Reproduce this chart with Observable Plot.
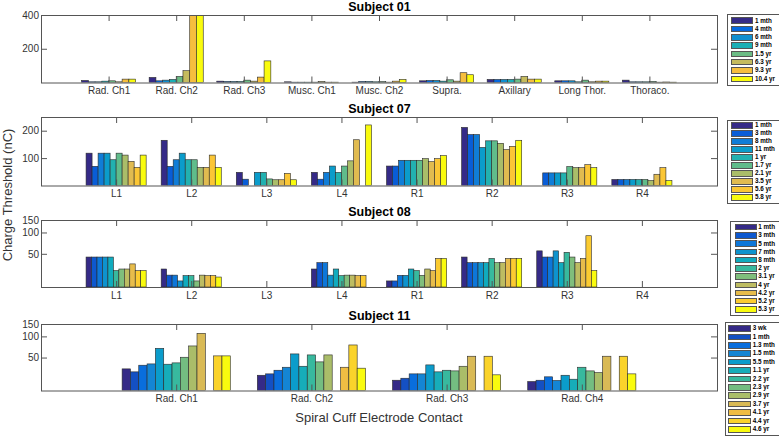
<!DOCTYPE html>
<html><head><meta charset="utf-8">
<script src="https://cdn.jsdelivr.net/npm/d3@7"></script>
<script src="https://cdn.jsdelivr.net/npm/@observablehq/plot@0.6"></script>
<style>
html,body{margin:0;padding:0;background:#fff;}
#chart{position:absolute;left:0;top:0;width:779px;height:437px;overflow:hidden;font-family:"Liberation Sans",Arial,Helvetica,sans-serif;}
.pwrap{position:absolute;left:0;width:779px;overflow:visible;}
.pwrap svg{display:block;max-width:none;}
.legend{position:absolute;border:1px solid #555;background:#fff;box-sizing:border-box;overflow:hidden;}
.legend .row{position:absolute;left:0;display:flex;align-items:center;}
.legend .sw{box-sizing:border-box;border:1px solid #555;flex:none;}
.legend .lab{font-size:6.3px;font-weight:bold;line-height:1;color:#000;white-space:nowrap;}
.axtitle{position:absolute;font-size:13px;color:#333;white-space:nowrap;line-height:1;}
</style></head><body><div id="chart"></div>
<script>
// ---------- data ----------
const s01Categories = ["Rad. Ch1","Rad. Ch2","Rad. Ch3","Musc. Ch1","Musc. Ch2","Supra.","Axillary","Long Thor.","Thoraco."];
const s01Series = ["1 mth","4 mth","6 mth","9 mth","1.5 yr","6.3 yr","9.3 yr","10.4 yr"];
const s01Values = [
  [12,4,4,8,10,4,20,20],
  [30,10,14,18,36,70,400,400],
  [8,6,6,6,14,8,32,128],
  [4,2,2,2,2,6,2,2],
  [2,6,6,4,5,2,8,18],
  [10,12,12,8,16,8,58,46],
  [18,18,18,18,20,36,20,20],
  [10,10,10,4,14,4,8,8],
  [14,4,4,4,6,2,3,2]
];
const s01YTicks = [200,400];

const s07Categories = ["L1","L2","L3","L4","R1","R2","R3","R4"];
const s07Series = ["1 mth","3 mth","8 mth","11 mth","1 yr","1.7 yr","2.1 yr","3.5 yr","5.6 yr","5.8 yr"];
const s07Values = [
  [118,70,118,118,94,118,111,88,66,111],
  [165,70,94,118,94,94,66,66,111,66],
  [48,23,null,48,48,24,21,21,44,21],
  [48,23,48,71,48,71,90,167,null,221],
  [71,71,92,92,92,92,98,87,98,109],
  [212,186,186,139,163,163,154,131,143,165],
  [null,46,46,46,46,69,65,65,76,65],
  [22,22,22,22,22,22,18,41,65,18]
];
const s07YTicks = [100,200];

const s08Categories = ["L1","L2","L3","L4","R1","R2","R3","R4"];
const s08Series = ["1 mth","3 mth","5 mth","7 mth","8 mth","2 yr","3.1 yr","4 yr","4.2 yr","5.2 yr","5.3 yr"];
const s08Values = [
  [45,45,45,45,45,29,30.5,30.5,36,29,29],
  [30.5,25,25,20.7,24.6,24.6,20.7,25,24.6,24.6,23.5],
  [null,null,null,null,null,null,null,null,null,null,null],
  [30.5,37.5,37.5,25,30.5,24.6,25,25,24.6,24.6,null],
  [20.7,20.7,24.8,24.8,30.5,29,24.8,30.5,29,43,43],
  [45,37.5,37.5,37.5,37.5,43,37.5,37.5,43,43,43],
  [55,45,45,55,37.5,52.5,45,37.5,43,90,29],
  [null,null,null,null,null,null,null,null,null,null,null]
];
const s08YTicks = [50,100,150];

const s11Categories = ["Rad. Ch1","Rad. Ch2","Rad. Ch3","Rad. Ch4"];
const s11Series = ["3 wk","1 mth","1.3 mth","1.5 mth","5.5 mth","1.1 yr","2.2 yr","2.3 yr","2.9 yr","3.7 yr","4.1 yr","4.4 yr","4.6 yr"];
const s11Values = [
  [34.5,31.3,38.9,40.6,67.7,40.2,42,50.5,73.1,110.6,null,52.8,52.8],
  [28,29.3,33,36.4,56.3,37.6,54.5,43.4,54.5,null,36.4,75.5,35.3],
  [23.8,25.4,29.3,29.3,39.3,31.3,33,32.3,37.6,52.2,null,52.2,28.4],
  [22.8,23.8,26.6,23.6,28,24.6,36.4,32.3,30.6,52.2,null,52.2,29.3]
];
const s11YTicks = [50,100,150];

// ---------- styling ----------
const parula = d3.piecewise(d3.interpolateRgb, ["#352a87","#0363e1","#1485d4","#06a7c6","#38b99e","#92bf73","#d9ba56","#fbbf3a","#f9fb0e"]);
const FRAME_L = 41, FRAME_R = 717, W = 779;
const chart = document.getElementById("chart");
const AX = "#555";
const FONT = "'Liberation Sans', Arial, Helvetica, sans-serif";

function panel({title, cats, series, values, yType, yDomain, yTicks, top, frameH}) {
  const n = series.length, w = 0.8 / n;
  const rows = [];
  values.forEach((arr, ci) => arr.forEach((v, si) => {
    if (v != null && v > 0) rows.push({ci, si, series: series[si], value: v});
  }));
  const colors = series.map((_, i) => parula(i / (n - 1)));
  const xTicks = cats.map((_, i) => i + 1);
  const frameW = FRAME_R - FRAME_L;
  const base = yDomain[0];
  const mt = 20, mb = 22;
  const H = mt + frameH + mb;
  const svg = Plot.plot({
    width: W, height: H,
    marginTop: mt, marginBottom: mb, marginLeft: FRAME_L, marginRight: W - FRAME_R,
    x: {domain: [0, cats.length + 1], axis: null},
    y: {type: yType, domain: yDomain, axis: null},
    color: {type: "ordinal", domain: series, range: colors},
    style: {background: "transparent", fontFamily: FONT, overflow: "visible"},
    marks: [
      Plot.rect(rows, {
        x1: d => d.ci + 0.6 + d.si * w,
        x2: d => d.ci + 0.6 + (d.si + 1) * w,
        y1: () => base, y2: "value",
        fill: "series", stroke: "#2a2a2a", strokeWidth: 0.6, clip: true
      }),
      Plot.frame({stroke: AX, strokeWidth: 1}),
      Plot.tickX(xTicks, {x: d => d, insetTop: frameH - 6, stroke: AX}),
      Plot.tickX(xTicks, {x: d => d, insetBottom: frameH - 6, stroke: AX}),
      Plot.tickY(yTicks, {y: d => d, insetRight: frameW - 6, stroke: AX}),
      Plot.tickY(yTicks, {y: d => d, insetLeft: frameW - 6, stroke: AX}),
      Plot.text(xTicks, {x: d => d, text: d => cats[d - 1], frameAnchor: "bottom", lineAnchor: "middle", dy: 8, fontSize: 10, fill: "#333"}),
      Plot.text(yTicks, {y: d => d, text: d => String(d), frameAnchor: "left", textAnchor: "end", lineAnchor: "middle", dx: -2.5, fontSize: 10, fill: "#333"}),
      Plot.text([title], {text: d => d, frameAnchor: "top", lineAnchor: "middle", dy: -8.5, fontSize: 12.5, fontWeight: "bold", fill: "#000"})
    ]
  });
  const wrap = document.createElement("div");
  wrap.className = "pwrap";
  wrap.style.top = (top - mt) + "px";
  wrap.style.height = H + "px";
  wrap.appendChild(svg);
  chart.appendChild(wrap);
  return colors;
}

function legend(series, colors, {left, top, height, pad, padLeft, swW, gap}) {
  const div = document.createElement("div");
  div.className = "legend";
  Object.assign(div.style, {left: left + "px", top: top + "px", width: (W - left + 0.5) + "px", height: height + "px"});
  const rh = (height - 2 - 2 * pad) / series.length;
  series.forEach((s, i) => {
    const row = document.createElement("div");
    row.className = "row";
    Object.assign(row.style, {top: (pad + i * rh) + "px", height: rh + "px", paddingLeft: padLeft + "px"});
    const sw = document.createElement("div");
    sw.className = "sw";
    Object.assign(sw.style, {width: swW + "px", height: (rh - 1.8) + "px", background: colors[i], marginRight: gap + "px"});
    const lab = document.createElement("span");
    lab.className = "lab";
    lab.textContent = s;
    row.appendChild(sw); row.appendChild(lab);
    div.appendChild(row);
  });
  chart.appendChild(div);
}

const c01 = panel({title: "Subject 01", cats: s01Categories, series: s01Series, values: s01Values, yType: "linear", yDomain: [0, 400], yTicks: s01YTicks, top: 14.5, frameH: 67.5});
const c07 = panel({title: "Subject 07", cats: s07Categories, series: s07Series, values: s07Values, yType: "linear", yDomain: [0, 250], yTicks: s07YTicks, top: 116.5, frameH: 68.5});
const c08 = panel({title: "Subject 08", cats: s08Categories, series: s08Series, values: s08Values, yType: "log", yDomain: [17, 150], yTicks: s08YTicks, top: 220, frameH: 67});
const c11 = panel({title: "Subject 11", cats: s11Categories, series: s11Series, values: s11Values, yType: "log", yDomain: [17, 150], yTicks: s11YTicks, top: 323.5, frameH: 66.5});

legend(s01Series, c01, {left: 726.5, top: 13.5, height: 72.5, pad: 2, padLeft: 3.5, swW: 22, gap: 2});
legend(s07Series, c07, {left: 726.5, top: 119.5, height: 84, pad: 1, padLeft: 3.5, swW: 22, gap: 2});
legend(s08Series, c08, {left: 730, top: 220.7, height: 95.3, pad: 1.5, padLeft: 4, swW: 21.7, gap: 1.5});
legend(s11Series, c11, {left: 725, top: 321.7, height: 114.3, pad: 1.5, padLeft: 2.3, swW: 23, gap: 1.5});

const xt = document.createElement("div");
xt.className = "axtitle";
xt.textContent = "Spiral Cuff Electrode Contact";
Object.assign(xt.style, {left: "379px", top: "417px", transform: "translate(-50%,-50%)"});
chart.appendChild(xt);

const yt = document.createElement("div");
yt.className = "axtitle";
yt.textContent = "Charge Threshold (nC)";
Object.assign(yt.style, {left: "7px", top: "195px", transform: "translate(-50%,-50%) rotate(-90deg)"});
chart.appendChild(yt);
</script>
</body></html>
